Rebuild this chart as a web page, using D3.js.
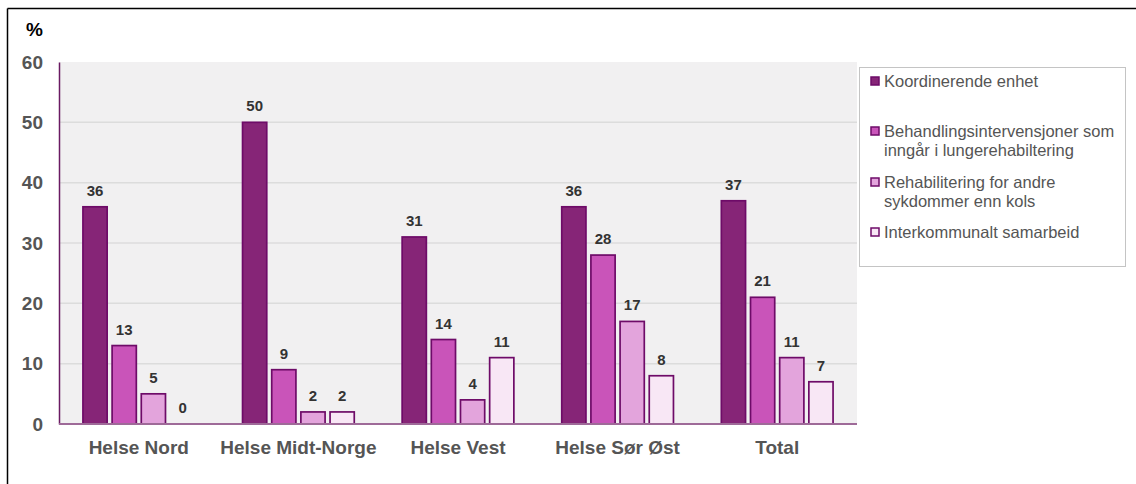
<!DOCTYPE html>
<html><head><meta charset="utf-8">
<script src="https://cdn.jsdelivr.net/npm/d3@7"></script>
<style>body{margin:0;background:#fff}svg{display:block;font-family:"Liberation Sans",Arial,sans-serif}</style>
</head><body>
<script>
const categories = ["Helse Nord","Helse Midt-Norge","Helse Vest","Helse Sør Øst","Total"];
const seriesNames = ["Koordinerende enhet","Behandlingsintervensjoner som inngår i lungerehabiltering","Rehabilitering for andre sykdommer enn kols","Interkommunalt samarbeid"];
const legendLines = [["Koordinerende enhet"],["Behandlingsintervensjoner som","inngår i lungerehabiltering"],["Rehabilitering for andre","sykdommer enn kols"],["Interkommunalt samarbeid"]];
const koordinerende = [36,50,31,36,37];
const behandling = [13,9,14,28,21];
const rehabilitering = [5,2,4,17,11];
const interkommunalt = [0,2,11,8,7];
const yTicks = [0,10,20,30,40,50,60];
const colors = ["#862577","#c954b9","#e3a4dc","#f8e7f5"];

const series = [koordinerende,behandling,rehabilitering,interkommunalt];
const W=1136,H=484;
const svg=d3.select("body").append("svg").attr("width",W).attr("height",H);
// outer frame
svg.append("line").attr("x1",7.5).attr("x2",W).attr("y1",8.5).attr("y2",8.5).attr("stroke","#000").attr("stroke-width",1.5);
svg.append("line").attr("x1",7.5).attr("x2",7.5).attr("y1",8.5).attr("y2",H).attr("stroke","#000").attr("stroke-width",1.5);

const L=59,R=857,T=62,B=424;
const y=d3.scaleLinear().domain([0,60]).range([B,T]);
const x0=d3.scaleBand().domain(categories).range([L,R]).paddingInner(0.3).paddingOuter(0.15);
const x1=d3.scaleBand().domain(d3.range(4)).range([0,x0.bandwidth()]).paddingInner(0.17).paddingOuter(0);

svg.append("rect").attr("x",L).attr("y",T).attr("width",R-L).attr("height",B-T).attr("fill","#f1f0f1");
const g=svg.append("g");
g.selectAll("line.grid").data(yTicks.filter(d=>d>0&&d<60)).join("line")
 .attr("x1",L).attr("x2",R).attr("y1",d=>y(d)).attr("y2",d=>y(d)).attr("stroke","#dcdcdc").attr("stroke-width",1.5);

// y axis
const yAxis=svg.append("g").attr("transform",`translate(${L},0)`).call(d3.axisLeft(y).tickValues(yTicks).tickSize(0).tickPadding(16));
yAxis.select(".domain").attr("stroke","#6a1a62").attr("stroke-width",1.5);
yAxis.selectAll("text").attr("font-size",19).attr("font-weight","bold").attr("fill","#555").attr("font-family","Liberation Sans, Arial, sans-serif");
svg.append("text").attr("x",26).attr("y",36).attr("font-size",19).attr("font-weight","bold").attr("fill","#000").text("%");

// bars
categories.forEach((c,ci)=>{
  series.forEach((s,si)=>{
    const v=s[ci];
    const bx=x0(c)+x1(si);
    if(v>0){
      g.append("rect").attr("x",bx).attr("y",y(v)).attr("width",x1.bandwidth()).attr("height",y(0)-y(v))
        .attr("fill",colors[si]).attr("stroke","#6e0b68").attr("stroke-width",1.7);
    }
    g.append("text").attr("x",bx+x1.bandwidth()/2).attr("y",y(v)-11).attr("text-anchor","middle")
      .attr("font-size",15).attr("font-weight","bold").attr("fill","#333").text(v);
  });
});

// x axis
const xAxis=svg.append("g").attr("transform",`translate(0,${B})`).call(d3.axisBottom(x0).tickSize(0).tickPadding(17));
xAxis.select(".domain").attr("stroke","#9e6a98").attr("stroke-width",2).attr("d",`M${L},0H${R}`);
xAxis.selectAll("text").attr("font-size",19).attr("font-weight","bold").attr("fill","#555").attr("font-family","Liberation Sans, Arial, sans-serif");

// legend
const lg=svg.append("g");
lg.append("rect").attr("x",859.5).attr("y",67.5).attr("width",266).attr("height",199).attr("fill","#fff").attr("stroke","#c4c4c4").attr("stroke-width",1);
const entryY=[81,131,182,232];
legendLines.forEach((lines,i)=>{
  lg.append("rect").attr("x",871).attr("y",entryY[i]-4).attr("width",8).attr("height",8)
    .attr("fill",colors[i]).attr("stroke","#6e0b68").attr("stroke-width",1.5);
  lines.forEach((t,j)=>{
    lg.append("text").attr("x",884).attr("y",entryY[i]+6+j*19).attr("font-size",16.5).attr("fill","#555").text(t);
  });
});
</script>
</body></html>
